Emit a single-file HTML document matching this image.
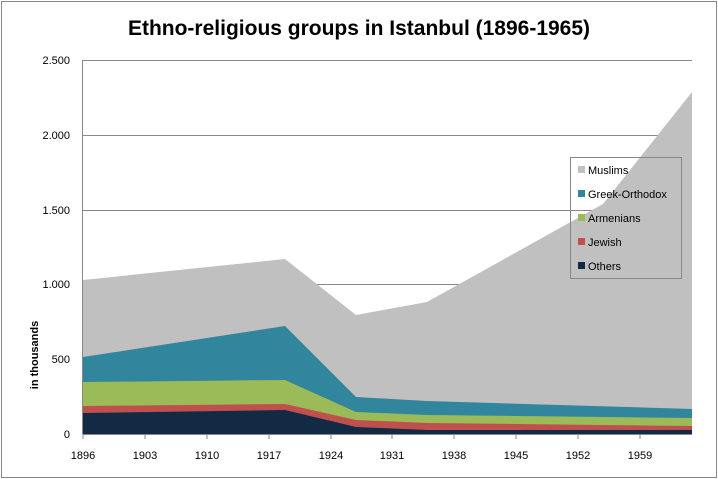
<!DOCTYPE html>
<html><head><style>body{margin:0;background:#fff}svg{display:block;font-family:"Liberation Sans",sans-serif}</style></head><body>
<svg width="718" height="479" viewBox="0 0 718 479">
<rect x="1.5" y="1.5" width="715" height="476" fill="#fff" stroke="#888"/>
<text x="359" y="35" text-anchor="middle" font-size="21" font-weight="bold" fill="#000">Ethno-religious groups in Istanbul (1896-1965)</text>
<g stroke="#888" stroke-width="1">
<line x1="83" y1="60.5" x2="692" y2="60.5"/><line x1="83" y1="135.5" x2="692" y2="135.5"/><line x1="83" y1="210.5" x2="692" y2="210.5"/><line x1="83" y1="284.5" x2="692" y2="284.5"/><line x1="83" y1="359.5" x2="692" y2="359.5"/>
</g>
<polygon fill="#c0c0c0" points="83,280 285,259 356,315 427,302 603,204 692,92 692,434 83,434"/>
<polygon fill="#31859c" points="83,357 285,326 356,397 427,401 692,409 692,434 83,434"/>
<polygon fill="#9bbb59" points="83,382 285,380 356,412 427,415 692,418 692,434 83,434"/>
<polygon fill="#c0504d" points="83,406 285,404 356,420 427,423 692,426 692,434 83,434"/>
<polygon fill="#132a44" points="83,413 285,410 356,427 427,430 692,430 692,434 83,434"/>
<g stroke="#888"><line x1="82.5" y1="60" x2="82.5" y2="434"/><line x1="83" y1="434.5" x2="692" y2="434.5"/>
<line x1="83" y1="434" x2="83" y2="439"/><line x1="145" y1="434" x2="145" y2="439"/><line x1="207" y1="434" x2="207" y2="439"/><line x1="269" y1="434" x2="269" y2="439"/><line x1="331" y1="434" x2="331" y2="439"/><line x1="392" y1="434" x2="392" y2="439"/><line x1="454" y1="434" x2="454" y2="439"/><line x1="516" y1="434" x2="516" y2="439"/><line x1="578" y1="434" x2="578" y2="439"/><line x1="640" y1="434" x2="640" y2="439"/>
</g>
<g font-size="11" fill="#000" text-anchor="end">
<text x="70" y="64">2.500</text><text x="70" y="139">2.000</text><text x="70" y="214">1.500</text><text x="70" y="288">1.000</text><text x="70" y="363">500</text><text x="70" y="438">0</text>
</g>
<g font-size="11" fill="#000" text-anchor="middle">
<text x="83" y="459">1896</text><text x="145" y="459">1903</text><text x="207" y="459">1910</text><text x="269" y="459">1917</text><text x="331" y="459">1924</text><text x="392" y="459">1931</text><text x="454" y="459">1938</text><text x="516" y="459">1945</text><text x="578" y="459">1952</text><text x="640" y="459">1959</text>
</g>
<text transform="translate(38,355) rotate(-90)" text-anchor="middle" font-size="11" font-weight="bold">in thousands</text>
<rect x="570.5" y="157.5" width="111" height="121" fill="none" stroke="#888"/>
<g font-size="11" fill="#000">
<rect x="578" y="166" width="7" height="7" fill="#c0c0c0"/><text x="588" y="174">Muslims</text>
<rect x="578" y="190" width="7" height="7" fill="#31859c"/><text x="588" y="198">Greek-Orthodox</text>
<rect x="578" y="214" width="7" height="7" fill="#9bbb59"/><text x="588" y="222">Armenians</text>
<rect x="578" y="238" width="7" height="7" fill="#c0504d"/><text x="588" y="246">Jewish</text>
<rect x="578" y="262" width="7" height="7" fill="#132a44"/><text x="588" y="270">Others</text>
</g>
</svg>
</body></html>
